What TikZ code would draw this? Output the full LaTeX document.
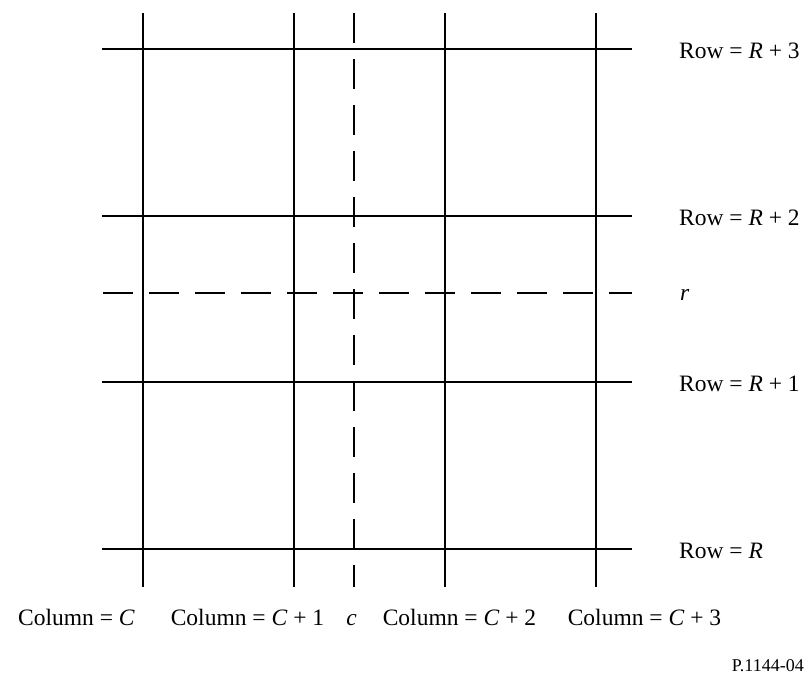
\documentclass[tikz,border=0pt]{standalone}
\usepackage{fontspec}
\setmainfont{Liberation Serif}
\begin{document}
\begin{tikzpicture}[x=1pt,y=-1pt,
  gridline/.style={line width=2pt,black},
  dashline/.style={line width=2pt,black,dash pattern=on 30pt off 16pt},
  lbl/.style={inner sep=0pt,font=\fontsize{23.5}{28}\selectfont},
  tag/.style={inner sep=0pt,font=\fontsize{18}{22}\selectfont}]
\useasboundingbox[fill=white] (0,0) rectangle (809,678);
% horizontal grid lines
\coordinate (h3a) at (102,49);  \coordinate (h3b) at (632,49);
\coordinate (h2a) at (102,216); \coordinate (h2b) at (632,216);
\coordinate (hra) at (103,293); \coordinate (hrb) at (632,293);
\coordinate (h1a) at (102,382); \coordinate (h1b) at (632,382);
\coordinate (h0a) at (102,549); \coordinate (h0b) at (632,549);
\draw[gridline] (h3a) -- (h3b);
\draw[gridline] (h2a) -- (h2b);
\draw[dashline] (hra) -- (hrb);
\draw[gridline] (h1a) -- (h1b);
\draw[gridline] (h0a) -- (h0b);
% vertical grid lines
\coordinate (v0a) at (143,13); \coordinate (v0b) at (143,587);
\coordinate (v1a) at (294,13); \coordinate (v1b) at (294,587);
\coordinate (vca) at (354,13); \coordinate (vcb) at (354,587);
\coordinate (v2a) at (445,13); \coordinate (v2b) at (445,587);
\coordinate (v3a) at (596,13); \coordinate (v3b) at (596,587);
\draw[gridline] (v0a) -- (v0b);
\draw[gridline] (v1a) -- (v1b);
\draw[dashline] (vca) -- (vcb);
\draw[gridline] (v2a) -- (v2b);
\draw[gridline] (v3a) -- (v3b);
% row labels
\node[lbl,anchor=base west] (r3) at (679,58) {Row = \textit{R} + 3};
\node[lbl,anchor=base west] (r2) at (679,225) {Row = \textit{R} + 2};
\node[lbl,anchor=base west] (rr) at (680,300) {\textit{r}};
\node[lbl,anchor=base west] (r1) at (679,391) {Row = \textit{R} + 1};
\node[lbl,anchor=base west] (r0) at (679,558) {Row = \textit{R}};
% column labels
\node[lbl,anchor=base] (c0) at (76.5,625) {Column = \textit{C}};
\node[lbl,anchor=base] (c1) at (247.5,625) {Column = \textit{C} + 1};
\node[lbl,anchor=base] (cc) at (351.5,625) {\textit{c}};
\node[lbl,anchor=base] (c2) at (459.5,625) {Column = \textit{C} + 2};
\node[lbl,anchor=base] (c3) at (644.5,625) {Column = \textit{C} + 3};
% figure tag
\node[tag,anchor=base east] (fig) at (804,671) {P.1144-04};
\end{tikzpicture}
\end{document}
